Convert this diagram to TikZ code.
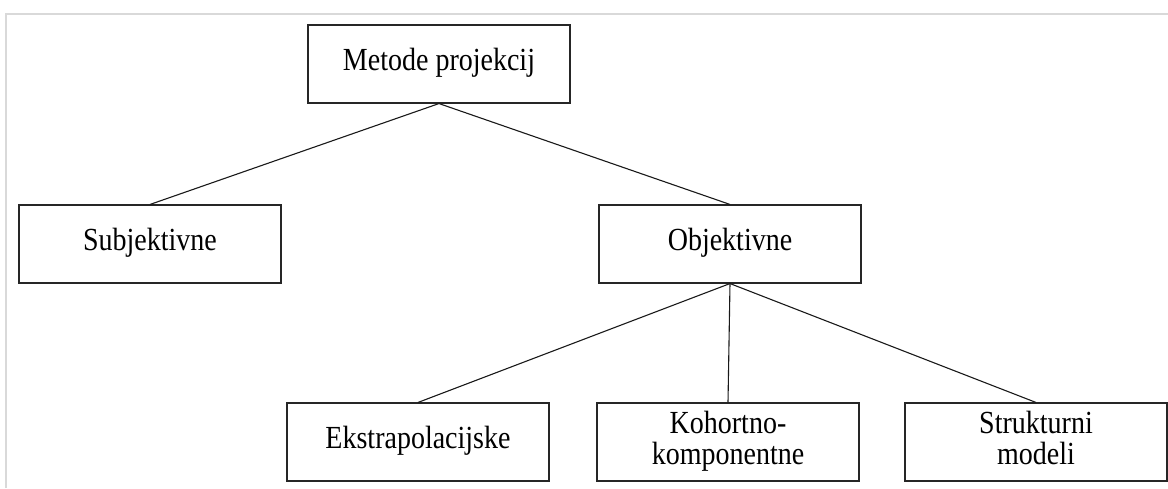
\documentclass[tikz,border=0pt]{standalone}
\usepackage{fontspec}
\usepackage{graphicx}
\setmainfont{Liberation Serif}
\newcommand\vtxt[1]{\scalebox{1}[1.15]{\begin{tabular}{@{}c@{}}#1\end{tabular}}}
\begin{document}
\begin{tikzpicture}[x=1pt,y=-1pt,
  box/.style={draw=black!85,line width=1.1pt,minimum width=262pt,minimum height=78pt,inner sep=0pt,align=center,font=\fontsize{28}{26}\selectfont},
  link/.style={draw=black!90,line width=1.1pt}]
\useasboundingbox (0,0) rectangle (1168,488);
\draw[black!15,line width=2pt] (6,488) -- (6,14) -- (1168,14);
\node[box] (m) at (439,64) {\vtxt{Metode projekcij}};
\node[box] (s) at (150,244) {\vtxt{Subjektivne}};
\node[box] (o) at (730,244) {\vtxt{Objektivne}};
\node[box] (e) at (418,442) {\vtxt{Ekstrapolacijske}};
\node[box] (k) at (728,442) {\vtxt{Kohortno-\\komponentne}};
\node[box] (t) at (1036,442) {\vtxt{Strukturni\\modeli}};
\draw[link] (m.south) -- (s.north);
\draw[link] (m.south) -- (o.north);
\draw[link] (o.south) -- (e.north);
\draw[link] (o.south) -- (k.north);
\draw[link] (o.south) -- (t.north);
\end{tikzpicture}
\end{document}
